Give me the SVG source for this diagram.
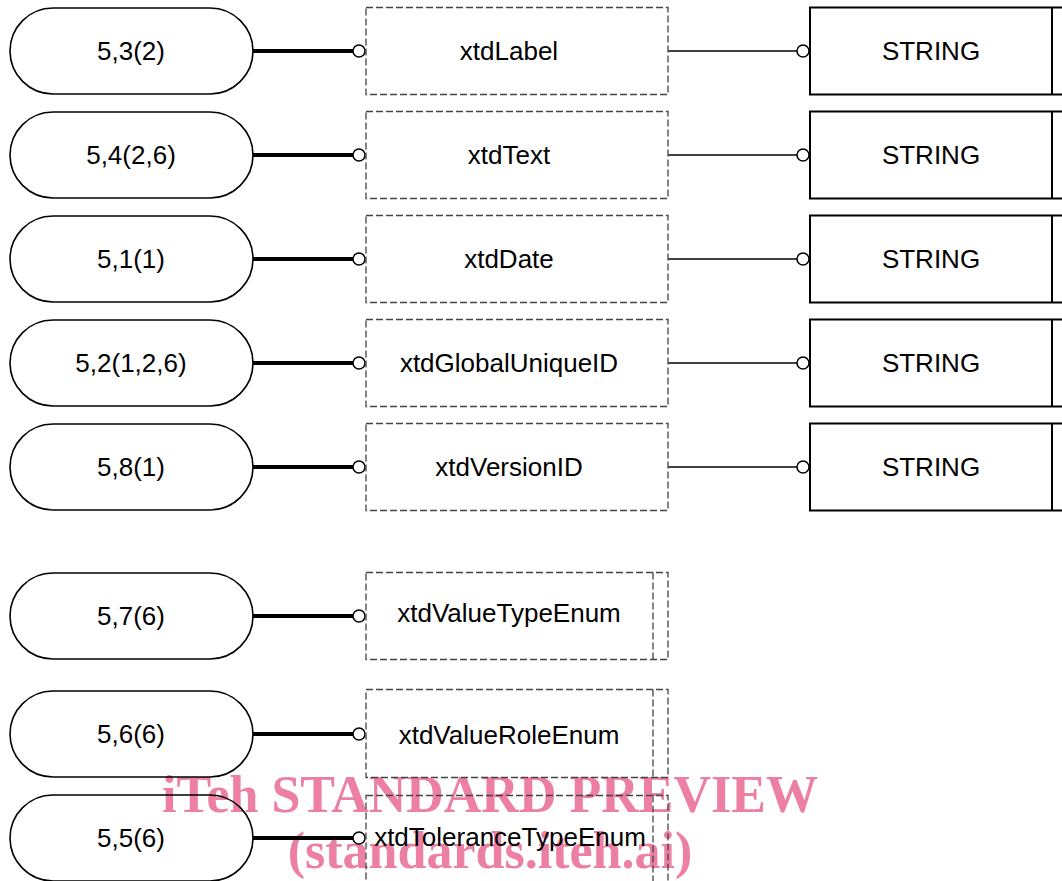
<svg xmlns="http://www.w3.org/2000/svg" width="1062" height="881" viewBox="0 0 1062 881">
<style>
.wm{font-family:"Liberation Serif","Times New Roman",serif;font-weight:bold;font-size:52px;fill:#EC7FA2;text-anchor:middle}
.pill{fill:none;stroke:#000;stroke-width:1.6}
.ent{fill:none;stroke:#444;stroke-width:1.3;stroke-dasharray:7,3}
.str{fill:none;stroke:#000;stroke-width:2}
.t{font-family:"Liberation Sans",Arial,sans-serif;font-size:26px;fill:#000;text-anchor:middle}
.thick{stroke:#000;stroke-width:4}
.thin{stroke:#000;stroke-width:1.5}
.end{fill:#fff;stroke:#000;stroke-width:1.5}
</style>
<rect width="1062" height="881" fill="#fff"/>
<g id="watermark">
<text class="wm" x="490" y="812">iTeh STANDARD PREVIEW</text>
<text class="wm" x="490" y="868">(standards.iteh.ai)</text>
</g>
<g id="connectors">
<line class="thick" x1="253" y1="51" x2="353" y2="51"/><circle class="end" cx="359" cy="51" r="6"/>
<line class="thick" x1="253" y1="155" x2="353" y2="155"/><circle class="end" cx="359" cy="155" r="6"/>
<line class="thick" x1="253" y1="259" x2="353" y2="259"/><circle class="end" cx="359" cy="259" r="6"/>
<line class="thick" x1="253" y1="363" x2="353" y2="363"/><circle class="end" cx="359" cy="363" r="6"/>
<line class="thick" x1="253" y1="467" x2="353" y2="467"/><circle class="end" cx="359" cy="467" r="6"/>
<line class="thick" x1="253" y1="616" x2="353" y2="616"/><circle class="end" cx="359" cy="616" r="6"/>
<line class="thick" x1="253" y1="734" x2="353" y2="734"/><circle class="end" cx="359" cy="734" r="6"/>
<line class="thick" x1="253" y1="838" x2="353" y2="838"/><circle class="end" cx="359" cy="838" r="6"/>
<line class="thin" x1="668" y1="51" x2="797" y2="51"/><circle class="end" cx="803" cy="51" r="6"/>
<line class="thin" x1="668" y1="155" x2="797" y2="155"/><circle class="end" cx="803" cy="155" r="6"/>
<line class="thin" x1="668" y1="259" x2="797" y2="259"/><circle class="end" cx="803" cy="259" r="6"/>
<line class="thin" x1="668" y1="363" x2="797" y2="363"/><circle class="end" cx="803" cy="363" r="6"/>
<line class="thin" x1="668" y1="467" x2="797" y2="467"/><circle class="end" cx="803" cy="467" r="6"/>
</g>
<g id="p1"><rect class="pill" x="10" y="8" width="243" height="86" rx="43"/><text class="t" x="131" y="60">5,3(2)</text></g>
<g id="p2"><rect class="pill" x="10" y="112" width="243" height="86" rx="43"/><text class="t" x="131" y="164">5,4(2,6)</text></g>
<g id="p3"><rect class="pill" x="10" y="216" width="243" height="86" rx="43"/><text class="t" x="131" y="268">5,1(1)</text></g>
<g id="p4"><rect class="pill" x="10" y="320" width="243" height="86" rx="43"/><text class="t" x="131" y="372">5,2(1,2,6)</text></g>
<g id="p5"><rect class="pill" x="10" y="424" width="243" height="86" rx="43"/><text class="t" x="131" y="476">5,8(1)</text></g>
<g id="p6"><rect class="pill" x="10" y="573" width="243" height="86" rx="43"/><text class="t" x="131" y="625">5,7(6)</text></g>
<g id="p7"><rect class="pill" x="10" y="691" width="243" height="86" rx="43"/><text class="t" x="131" y="743">5,6(6)</text></g>
<g id="p8"><rect class="pill" x="10" y="795" width="243" height="86" rx="43"/><text class="t" x="131" y="847">5,5(6)</text></g>
<g id="e1"><rect class="ent" x="366" y="7.5" width="302" height="87"/><text class="t" x="509" y="60">xtdLabel</text></g>
<g id="e2"><rect class="ent" x="366" y="111.5" width="302" height="87"/><text class="t" x="509" y="164">xtdText</text></g>
<g id="e3"><rect class="ent" x="366" y="215.5" width="302" height="87"/><text class="t" x="509" y="268">xtdDate</text></g>
<g id="e4"><rect class="ent" x="366" y="319.5" width="302" height="87"/><text class="t" x="509" y="372">xtdGlobalUniqueID</text></g>
<g id="e5"><rect class="ent" x="366" y="423.5" width="302" height="87"/><text class="t" x="509" y="476">xtdVersionID</text></g>
<g id="e6"><rect class="ent" x="366" y="572.5" width="302" height="87"/><line class="ent" x1="653" y1="572.5" x2="653" y2="659.5"/><text class="t" x="509" y="622">xtdValueTypeEnum</text></g>
<g id="e7"><rect class="ent" x="366" y="689.5" width="302" height="88"/><line class="ent" x1="653" y1="689.5" x2="653" y2="777.5"/><text class="t" x="509" y="744">xtdValueRoleEnum</text></g>
<g id="e8"><rect class="ent" x="366" y="795.5" width="302" height="100"/><line class="ent" x1="653" y1="795.5" x2="653" y2="895"/><text class="t" x="510" y="846">xtdToleranceTypeEnum</text></g>
<g id="s1"><rect class="str" x="810" y="7.5" width="260" height="87"/><line class="str" x1="1052" y1="7.5" x2="1052" y2="94.5"/><text class="t" x="931" y="60">STRING</text></g>
<g id="s2"><rect class="str" x="810" y="111.5" width="260" height="87"/><line class="str" x1="1052" y1="111.5" x2="1052" y2="198.5"/><text class="t" x="931" y="164">STRING</text></g>
<g id="s3"><rect class="str" x="810" y="215.5" width="260" height="87"/><line class="str" x1="1052" y1="215.5" x2="1052" y2="302.5"/><text class="t" x="931" y="268">STRING</text></g>
<g id="s4"><rect class="str" x="810" y="319.5" width="260" height="87"/><line class="str" x1="1052" y1="319.5" x2="1052" y2="406.5"/><text class="t" x="931" y="372">STRING</text></g>
<g id="s5"><rect class="str" x="810" y="423.5" width="260" height="87"/><line class="str" x1="1052" y1="423.5" x2="1052" y2="510.5"/><text class="t" x="931" y="476">STRING</text></g>
</svg>
